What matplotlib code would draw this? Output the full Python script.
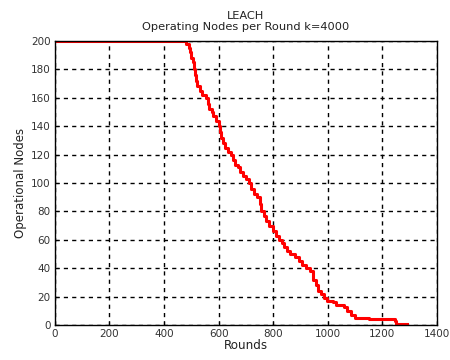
import matplotlib
matplotlib.use("Agg")
import matplotlib.pyplot as plt

# -------------------------------------------------------
# Data
# -------------------------------------------------------

rounds = [0, 476, 480, 490, 495, 500, 505, 508, 512, 518, 522, 530, 540, 552,
          560, 565, 575, 580, 590, 600, 605, 610, 615, 625, 635, 647, 652, 660,
          670, 680, 690, 700, 712, 720, 730, 740, 750, 757, 765, 775, 785, 800,
          810, 820, 831, 840, 850, 860, 880, 895, 905, 920, 934, 945, 955, 965,
          975, 985, 996, 1020, 1030, 1060, 1070, 1085, 1100, 1150, 1245, 1250,
          1290]

nodes = [200, 200, 198, 195, 192, 188, 185, 180, 176, 172, 168, 165, 162, 160,
         156, 152, 150, 147, 144, 140, 136, 132, 128, 125, 122, 120, 116, 113,
         111, 108, 105, 103, 100, 96, 92, 90, 85, 80, 77, 73, 70, 66,
         63, 60, 58, 55, 52, 50, 48, 45, 42, 40, 38, 32, 28, 24,
         22, 19, 17, 16, 14, 13, 10, 7, 5, 4, 3, 1,
         1]

x_ticks = [0, 200, 400, 600, 800, 1000, 1200, 1400]
y_ticks = [0, 20, 40, 60, 80, 100, 120, 140, 160, 180, 200]

# -------------------------------------------------------
# Plot
# -------------------------------------------------------

plt.rcParams["font.family"] = ["DejaVu Sans"]

fig = plt.figure(figsize=(4.5, 3.6), dpi=100)
ax = fig.add_axes([0.122, 0.097, 0.849, 0.789])

ax.step(rounds, nodes, where="post", color="red", linewidth=2.2)

ax.set_xlim(0, 1400)
ax.set_ylim(0, 200)
ax.set_xticks(x_ticks)
ax.set_yticks(y_ticks)
ax.tick_params(labelsize=7.5, direction="in", length=3,
               colors="black", labelcolor="#333333", pad=3)

ax.grid(True, color="black", linestyle=(0, (3, 3)), linewidth=1)

for spine in ax.spines.values():
    spine.set_linewidth(1)

ax.set_xlabel("Rounds", fontsize=8.6, labelpad=0, color="#222222")
ax.set_ylabel("Operational Nodes", fontsize=8.5, labelpad=3, color="#222222")
ax.set_title("LEACH\nOperating Nodes per Round k=4000", fontsize=8.2,
             linespacing=1.1, pad=8, color="#222222")

fig.savefig("out.png", dpi=100)
